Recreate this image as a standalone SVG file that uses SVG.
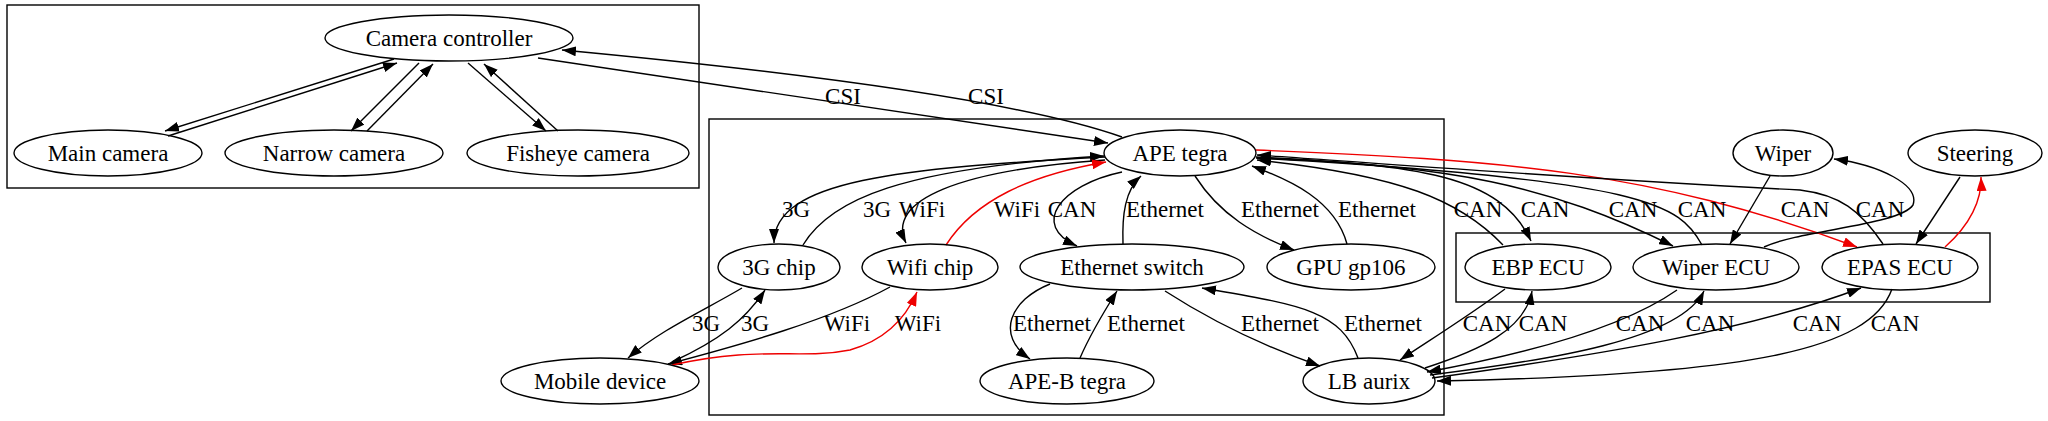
<svg xmlns="http://www.w3.org/2000/svg" width="2048" height="421" viewBox="0 0 2048 421">
<style>
text{font-family:"Liberation Serif","Times New Roman",serif;font-size:23px;fill:#000;text-anchor:middle}
.n ellipse{fill:none;stroke:#000;stroke-width:1.4}
.cl{fill:none;stroke:#000;stroke-width:1.4}
.e path{fill:none;stroke:#000;stroke-width:1.4;marker-end:url(#a)}
.e path.r{stroke:#e00;marker-end:url(#ar)}
</style>
<defs>
<marker id="a" markerWidth="14" markerHeight="10" refX="14" refY="5" orient="auto" markerUnits="userSpaceOnUse"><path d="M0,0 L14,5 L0,10 z" fill="#000"/></marker>
<marker id="ar" markerWidth="14" markerHeight="10" refX="14" refY="5" orient="auto" markerUnits="userSpaceOnUse"><path d="M0,0 L14,5 L0,10 z" fill="#e00"/></marker>
</defs>
<rect width="2048" height="421" fill="#fff"/>
<g id="clusters">
<rect class="cl" x="7" y="5" width="692" height="183"/>
<rect class="cl" x="709" y="119" width="735" height="296"/>
<rect class="cl" x="1456" y="233" width="534" height="69"/>
</g>
<g id="edges" class="e">
<path d="M394,59 L165,131"/>
<path d="M168,136 L397,63"/>
<path d="M419,63 L351,131"/>
<path d="M367,131 L433,64"/>
<path d="M468,63 L546,131"/>
<path d="M558,131 L484,64"/>
<path d="M538,58 C700,82 900,112 1108,143"/>
<path d="M1122,137 C1040,108 860,78 562,50"/>
<path d="M1105,157 C900,168 774,180 774,243"/>
<path d="M803,245 C830,200 900,168 1104,156"/>
<path d="M1105,160 C960,170 885,200 906,243"/>
<path class="r" d="M946,245 C975,200 1030,175 1106,162"/>
<path d="M1122,172 C1060,185 1030,225 1077,246"/>
<path d="M1123,244 C1122,215 1125,190 1141,176"/>
<path d="M1195,176 C1220,215 1255,235 1294,250"/>
<path d="M1347,244 C1335,200 1290,180 1252,166"/>
<path d="M1050,284 C1010,300 995,335 1030,359"/>
<path d="M1080,358 C1090,335 1105,310 1117,291"/>
<path d="M1165,291 C1210,320 1260,345 1320,366"/>
<path d="M1358,358 C1340,310 1300,305 1202,288"/>
<path d="M742,288 C705,310 660,330 628,358"/>
<path d="M672,362 C720,340 745,320 765,290"/>
<path d="M890,287 C830,320 740,345 668,364"/>
<path class="r" d="M672,365 C760,345 800,360 850,350 C885,340 905,320 917,292"/>
<path d="M1256,157 C1420,165 1500,175 1531,241"/>
<path d="M1503,245 C1460,200 1400,175 1257,160"/>
<path d="M1256,158 C1450,165 1550,185 1673,246"/>
<path d="M1702,245 C1680,205 1650,180 1257,158"/>
<path class="r" d="M1256,150 C1500,160 1650,170 1857,247"/>
<path d="M1883,244 C1860,210 1840,195 1800,190 C1600,180 1400,165 1257,155"/>
<path d="M1770,176 L1730,244"/>
<path d="M1764,247 C1800,230 1900,225 1913,205 C1920,185 1880,165 1834,159"/>
<path d="M1960,177 L1916,244"/>
<path class="r" d="M1945,247 C1970,225 1982,200 1981,177"/>
<path d="M1505,289 C1470,315 1430,340 1400,360"/>
<path d="M1425,368 C1480,350 1525,330 1532,291"/>
<path d="M1677,290 C1620,330 1520,355 1427,372"/>
<path d="M1430,375 C1550,360 1680,340 1704,291"/>
<path d="M1432,378 C1600,355 1750,330 1861,288"/>
<path d="M1892,289 C1870,350 1750,375 1437,381"/>
</g>
<g id="edge-labels">
<text x="843" y="104">CSI</text>
<text x="986" y="104">CSI</text>
<text x="796" y="217">3G</text>
<text x="877" y="217">3G</text>
<text x="922" y="217">WiFi</text>
<text x="1017" y="217">WiFi</text>
<text x="1072" y="217">CAN</text>
<text x="1165" y="217">Ethernet</text>
<text x="1280" y="217">Ethernet</text>
<text x="1377" y="217">Ethernet</text>
<text x="1478" y="217">CAN</text>
<text x="1545" y="217">CAN</text>
<text x="1633" y="217">CAN</text>
<text x="1702" y="217">CAN</text>
<text x="1805" y="217">CAN</text>
<text x="1880" y="217">CAN</text>
<text x="706" y="331">3G</text>
<text x="755" y="331">3G</text>
<text x="847" y="331">WiFi</text>
<text x="918" y="331">WiFi</text>
<text x="1052" y="331">Ethernet</text>
<text x="1146" y="331">Ethernet</text>
<text x="1280" y="331">Ethernet</text>
<text x="1383" y="331">Ethernet</text>
<text x="1487" y="331">CAN</text>
<text x="1543" y="331">CAN</text>
<text x="1640" y="331">CAN</text>
<text x="1710" y="331">CAN</text>
<text x="1817" y="331">CAN</text>
<text x="1895" y="331">CAN</text>
</g>
<g id="camera-controller" class="n"><ellipse cx="449" cy="38" rx="124" ry="23"/><text x="449" y="46">Camera controller</text></g>
<g id="main-camera" class="n"><ellipse cx="108" cy="153" rx="94" ry="23"/><text x="108" y="161">Main camera</text></g>
<g id="narrow-camera" class="n"><ellipse cx="334" cy="153" rx="109" ry="23"/><text x="334" y="161">Narrow camera</text></g>
<g id="fisheye-camera" class="n"><ellipse cx="578" cy="153" rx="111" ry="23"/><text x="578" y="161">Fisheye camera</text></g>
<g id="ape-tegra" class="n"><ellipse cx="1180" cy="153" rx="76" ry="23"/><text x="1180" y="161">APE tegra</text></g>
<g id="3g-chip" class="n"><ellipse cx="779" cy="267" rx="61" ry="23"/><text x="779" y="275">3G chip</text></g>
<g id="wifi-chip" class="n"><ellipse cx="930" cy="267" rx="68" ry="23"/><text x="930" y="275">Wifi chip</text></g>
<g id="ethernet-switch" class="n"><ellipse cx="1132" cy="267" rx="112" ry="23"/><text x="1132" y="275">Ethernet switch</text></g>
<g id="gpu-gp106" class="n"><ellipse cx="1351" cy="267" rx="84" ry="23"/><text x="1351" y="275">GPU gp106</text></g>
<g id="ape-b-tegra" class="n"><ellipse cx="1067" cy="381" rx="87" ry="23"/><text x="1067" y="389">APE-B tegra</text></g>
<g id="lb-aurix" class="n"><ellipse cx="1369" cy="381" rx="66" ry="23"/><text x="1369" y="389">LB aurix</text></g>
<g id="mobile-device" class="n"><ellipse cx="600" cy="381" rx="99" ry="23"/><text x="600" y="389">Mobile device</text></g>
<g id="wiper" class="n"><ellipse cx="1783" cy="153" rx="50" ry="23"/><text x="1783" y="161">Wiper</text></g>
<g id="steering" class="n"><ellipse cx="1975" cy="153" rx="67" ry="23"/><text x="1975" y="161">Steering</text></g>
<g id="ebp-ecu" class="n"><ellipse cx="1538" cy="267" rx="73" ry="23"/><text x="1538" y="275">EBP ECU</text></g>
<g id="wiper-ecu" class="n"><ellipse cx="1716" cy="267" rx="83" ry="23"/><text x="1716" y="275">Wiper ECU</text></g>
<g id="epas-ecu" class="n"><ellipse cx="1900" cy="267" rx="78" ry="23"/><text x="1900" y="275">EPAS ECU</text></g>
</svg>
